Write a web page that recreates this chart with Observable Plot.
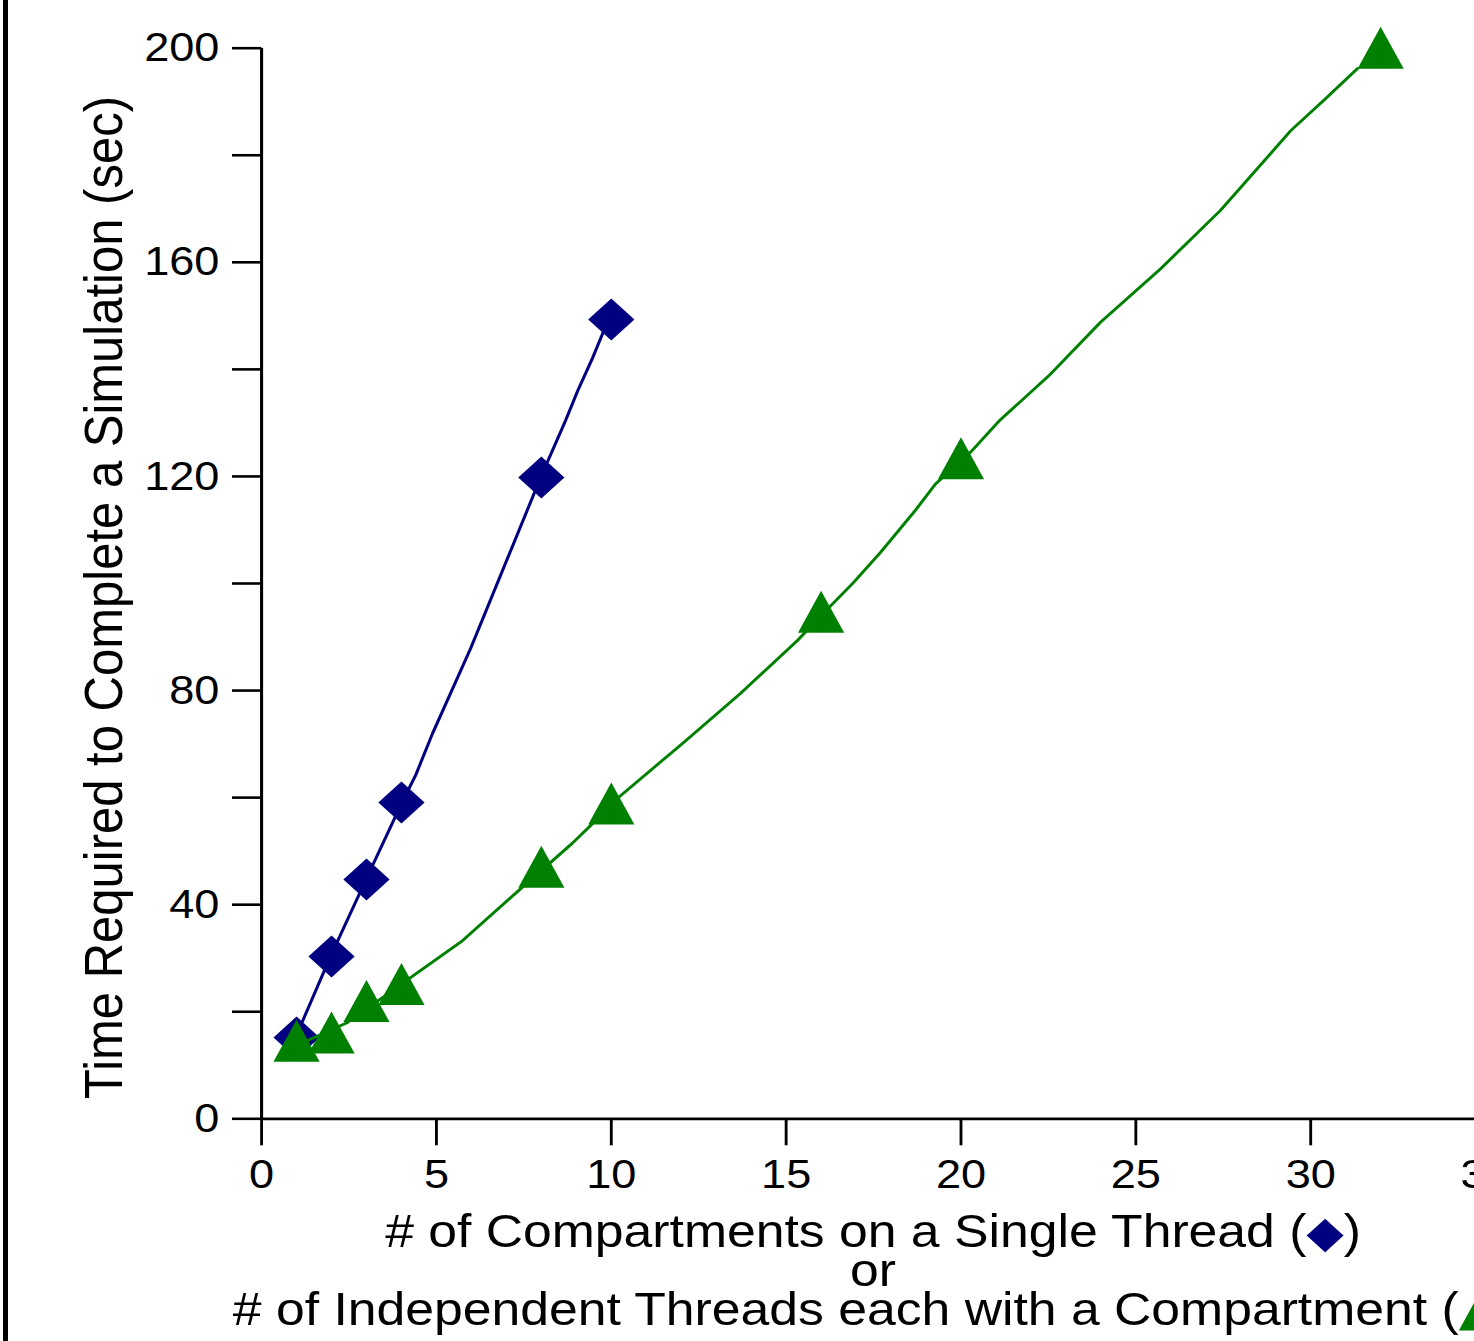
<!DOCTYPE html>
<html><head><meta charset="utf-8">
<script src="https://cdn.jsdelivr.net/npm/d3@7"></script>
<script src="https://cdn.jsdelivr.net/npm/@observablehq/plot@0.6"></script>
<style>
html,body{margin:0;padding:0;background:#fff;overflow:hidden;width:1474px;height:1341px;}
#wrap{position:relative;width:1474px;height:1341px;overflow:hidden;background:#fff;}
#border{position:absolute;left:3px;top:0;width:5px;height:1341px;background:#000;}
#chart{position:absolute;left:0;top:0;transform:scaleX(1.1);transform-origin:0 0;}
#chart svg{max-width:none;overflow:visible;}
</style></head>
<body><div id="wrap"><div id="chart"></div><div id="border"></div></div>
<script>
// ---- data ----
const xTicks = [0, 5, 10, 15, 20, 25, 30, 35];
const yTicks = [0, 20, 40, 60, 80, 100, 120, 140, 160, 180, 200];
const yTickLabels = [0, 40, 80, 120, 160, 200];

const blueX = [1, 2, 3, 4, 8, 10];
const blueY = [15.2, 30.3, 44.7, 59.1, 119.8, 149.3];
const greenX = [1, 2, 3, 4, 8, 10, 16, 20, 32];
const greenY = [14.6, 16.1, 22.0, 25.2, 47.1, 58.9, 94.7, 123.4, 200.1];

// drawn (smoothed) curves, vertices
const blueLineX = [0.97, 1.97, 3.00, 3.35, 4.03, 4.40, 4.89, 5.98, 7.98, 8.69, 9.04, 9.47, 9.81];
const blueLineY = [15.2, 30.3, 44.9, 49.8, 59.3, 64.1, 72.0, 87.9, 119.8, 130.4, 136.0, 142.2, 147.6];
const greenLineX = [1.00, 2.46, 4.35, 5.75, 7.03, 8.89, 9.41, 10.18, 12.07, 13.70, 15.33, 16.21, 16.93, 17.70, 18.70, 19.27, 20.27, 21.08, 22.51, 23.99, 25.71, 27.42, 29.43, 30.43, 31.34];
const greenLineY = [13.7, 18.0, 26.8, 33.3, 40.8, 51.5, 54.8, 59.9, 70.3, 79.5, 89.4, 95.4, 100.2, 105.8, 113.7, 118.6, 124.5, 130.3, 138.8, 148.8, 158.8, 169.7, 184.6, 190.6, 196.2];

const yLabel = "Time Required to Complete a Simulation (sec)";
const xLabel1 = ["# of Compartments on a Single Thread (", "\u25C6", ")"];
const xLabel2 = "or";
const xLabel3 = ["# of Independent Threads each with a Compartment (", "\u25B2", ")"];

const BLUE = "#000080", GREEN = "#008000";
const FONT = "'Liberation Sans', Arial, Helvetica, sans-serif";

// ---- tables ----
const blue = blueX.map((x, i) => ({x, y: blueY[i]}));
const green = greenX.map((x, i) => ({x, y: greenY[i]}));
const blueLine = blueLineX.map((x, i) => ({x, y: blueLineY[i]}));
const greenLine = greenLineX.map((x, i) => ({x, y: greenLineY[i]}));

// marker shapes centred on their bounding box
const diamondSym = {draw(ctx, size) { const h = Math.sqrt(size / Math.PI); ctx.moveTo(0, -h); ctx.lineTo(h, 0); ctx.lineTo(0, h); ctx.lineTo(-h, 0); ctx.closePath(); }};
const triangleSym = {draw(ctx, size) { const h = Math.sqrt(size / Math.PI); ctx.moveTo(0, -h); ctx.lineTo(h, h); ctx.lineTo(-h, h); ctx.closePath(); }};

const W = 1360, H = 1341, ML = 237.3, MR = 10, MT = 47.7, MB = H - 1118.3;

const chart = Plot.plot({
  width: W, height: H,
  marginLeft: ML, marginRight: MR, marginTop: MT, marginBottom: MB,
  style: {fontFamily: FONT, fontSize: "41px", color: "#000", background: "#fff", overflow: "visible", maxWidth: "none"},
  x: {domain: [0, 35], label: null},
  y: {domain: [0, 200], label: null},
  marks: [
    Plot.axisX({ticks: xTicks, tickSize: 27, tickPadding: 13, strokeWidth: 2.6, tickFormat: d => String(d), label: null, fontSize: 41}),
    Plot.axisY({ticks: yTicks, tickSize: 26.4, tickPadding: 12, strokeWidth: 2.6, tickFormat: d => yTickLabels.includes(d) ? String(d) : "", label: null, fontSize: 41}),
    Plot.ruleX([0], {y1: 0, y2: 200, strokeWidth: 2.8}),
    Plot.ruleY([0], {x1: 0, x2: 35, strokeWidth: 2.8}),
    Plot.line(blueLine, {x: "x", y: "y", stroke: BLUE, strokeWidth: 2.8}),
    Plot.dot(blue, {x: "x", y: "y", symbol: diamondSym, r: 21, fill: BLUE}),
    Plot.line(greenLine, {x: "x", y: "y", stroke: GREEN, strokeWidth: 2.8}),
    Plot.dot(green, {x: "x", y: "y", symbol: triangleSym, r: 21, fill: GREEN})
  ]
});
document.getElementById("chart").appendChild(chart);

// ---- axis titles ----
const svg = d3.select(chart);
const cx = (ML + W - MR) / 2;
const g = svg.append("g").attr("font-family", FONT).attr("fill", "#000");
g.append("text")
  .attr("transform", `translate(111,597.5) rotate(-90)`)
  .attr("text-anchor", "middle").attr("font-size", 49).text(yLabel);

function addLine(parts, y, color) {
  const t = g.append("text").attr("x", cx).attr("y", y).attr("text-anchor", "middle").attr("font-size", 47);
  t.append("tspan").text(parts[0]);
  t.append("tspan").attr("fill", color).attr("font-family", "'DejaVu Sans', sans-serif").attr("font-size", 44).text(parts[1]);
  t.append("tspan").text(parts[2]);
}
addLine(xLabel1, 1247, BLUE);
g.append("text").attr("x", cx).attr("y", 1286).attr("text-anchor", "middle").attr("font-size", 47).text(xLabel2);
addLine(xLabel3, 1325, GREEN);
</script>
</body></html>
